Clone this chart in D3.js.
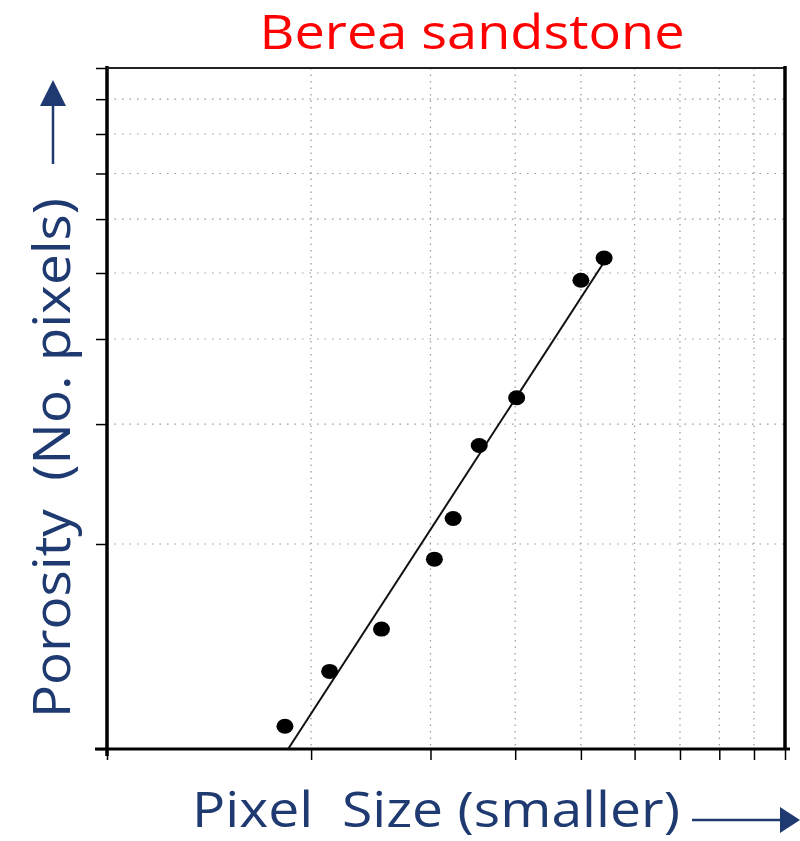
<!DOCTYPE html>
<html>
<head>
<meta charset="utf-8">
<script src="https://cdn.jsdelivr.net/npm/d3@7"></script>
<style>
  body { margin: 0; background: #fff; }
  svg { display: block; }
  text { white-space: pre; }
</style>
</head>
<body>
<script>
// porosity vs pixel size, log-log
var pixelSize = [1.83, 2.13, 2.54, 3.04, 3.24, 3.54, 4.02, 5.00, 5.41];
var porosity  = [1.08, 1.30, 1.50, 1.90, 2.18, 2.79, 3.28, 4.88, 5.26];
var fitX = [1.85, 5.41];
var fitY = [1.00, 5.19];
var gridVals = [2, 3, 4, 5, 6, 7, 8, 9];
var edgeVals = [1, 10];

var navy = "#1f3a70";
var font = "'Open Sans', 'Noto Sans', sans-serif";

var svg = d3.select("body").append("svg")
  .attr("width", 800).attr("height", 841);

var x = d3.scaleLog().domain([1, 10]).range([107, 785]);
var y = d3.scaleLog().domain([1, 10]).range([749, 68]);

// faint dotted grid
svg.selectAll(".vgrid").data(gridVals).enter().append("line")
  .attr("class", "vgrid")
  .attr("x1", function(d) { return x(d); }).attr("x2", function(d) { return x(d); })
  .attr("y1", y(10)).attr("y2", y(1))
  .style("stroke", "#999").style("stroke-width", 1.2)
  .style("stroke-dasharray", "1.5,5");

svg.selectAll(".hgrid").data(gridVals).enter().append("line")
  .attr("class", "hgrid")
  .attr("x1", x(1)).attr("x2", x(10))
  .attr("y1", function(d) { return y(d); }).attr("y2", function(d) { return y(d); })
  .style("stroke", "#999").style("stroke-width", 1.2)
  .style("stroke-dasharray", "1.5,6");

// axes: ticks outward, no labels
var xAxis = d3.axisBottom(x).tickValues(gridVals.concat(edgeVals)).tickSize(11).tickFormat("");
var yAxis = d3.axisLeft(y).tickValues(gridVals.concat(edgeVals)).tickSize(11).tickFormat("");

svg.append("g").attr("transform", "translate(0," + y(1) + ")").call(xAxis)
  .call(function(g) {
    g.select(".domain").attr("d", "M95,0H790").style("stroke-width", 3);
    g.selectAll(".tick line").style("stroke-width", 1.5);
  });
svg.append("g").attr("transform", "translate(" + x(1) + ",0)").call(yAxis)
  .call(function(g) {
    g.select(".domain").attr("d", "M0,66V756").style("stroke-width", 3.5);
    g.selectAll(".tick line").style("stroke-width", 1.5);
  });

// top and right frame
svg.append("line").attr("x1", x(1)).attr("x2", x(10)).attr("y1", y(10)).attr("y2", y(10))
  .style("stroke", "#222").style("stroke-width", 2);
svg.append("line").attr("x1", x(10)).attr("x2", x(10)).attr("y1", y(10) - 2).attr("y2", y(1))
  .style("stroke", "#000").style("stroke-width", 3.5);

// fitted line
var line = d3.line().x(function(d) { return x(d[0]); }).y(function(d) { return y(d[1]); });
svg.append("path").datum(d3.zip(fitX, fitY))
  .attr("d", line)
  .style("fill", "none").style("stroke", "#111").style("stroke-width", 2);

// data points
svg.selectAll(".pt").data(d3.zip(pixelSize, porosity)).enter().append("ellipse")
  .attr("class", "pt")
  .attr("cx", function(d) { return x(d[0]); })
  .attr("cy", function(d) { return y(d[1]); })
  .attr("rx", 8.5).attr("ry", 7.5)
  .style("fill", "#000");

// title
svg.append("text").text("Berea sandstone")
  .attr("x", 472).attr("y", 49)
  .attr("text-anchor", "middle")
  .attr("textLength", 425).attr("lengthAdjust", "spacingAndGlyphs")
  .style("font-family", font)
  .style("font-size", "47px")
  .style("fill", "#ff0000");

// y label + arrow
svg.append("text").text("Porosity  (No. pixels)")
  .attr("transform", "translate(70,458) rotate(-90)")
  .attr("text-anchor", "middle")
  .attr("textLength", 520).attr("lengthAdjust", "spacingAndGlyphs")
  .style("font-family", font)
  .style("font-size", "52px")
  .style("fill", navy);

svg.append("line").attr("x1", 53).attr("x2", 53).attr("y1", 164).attr("y2", 104)
  .style("stroke", navy).style("stroke-width", 2.5);
svg.append("path").attr("d", "M40,106L66,106L53,80Z").style("fill", navy);

// x label + arrow
svg.append("text").text("Pixel  Size (smaller)")
  .attr("x", 192).attr("y", 827)
  .attr("textLength", 488).attr("lengthAdjust", "spacingAndGlyphs")
  .style("font-family", font)
  .style("font-size", "50px")
  .style("fill", navy);

svg.append("line").attr("x1", 692).attr("x2", 782).attr("y1", 820).attr("y2", 820)
  .style("stroke", navy).style("stroke-width", 2.5);
svg.append("path").attr("d", "M780,807L780,833L800,820Z").style("fill", navy);
</script>
</body>
</html>
